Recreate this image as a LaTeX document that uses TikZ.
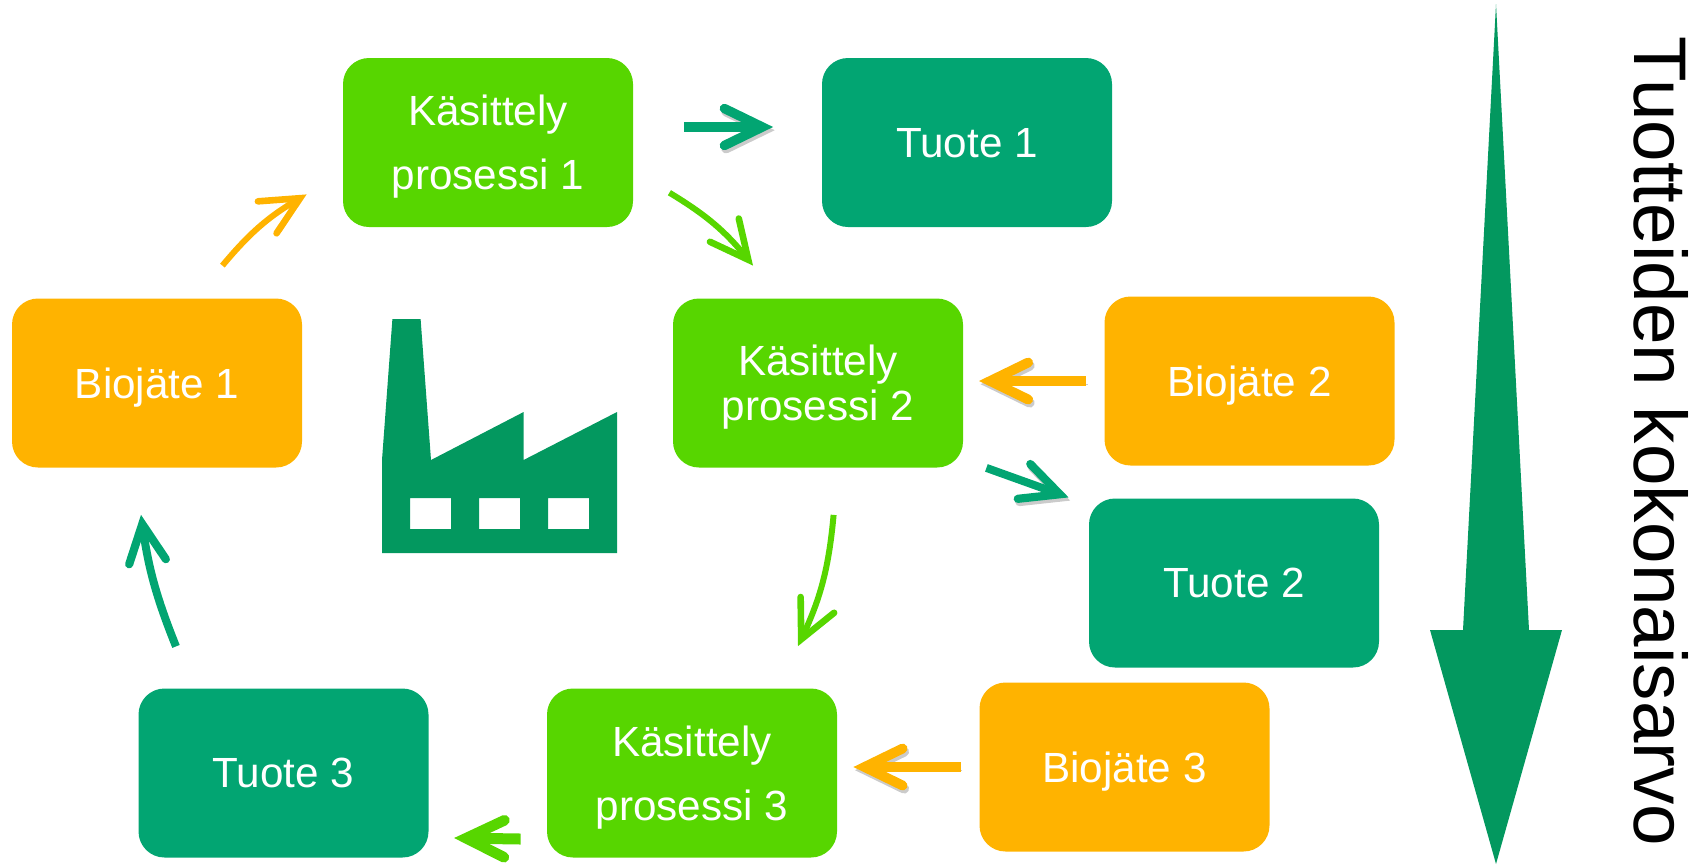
\documentclass[tikz,border=0pt]{standalone}
\usepackage{fontspec}
\setmainfont{Liberation Sans}
\usetikzlibrary{arrows.meta, positioning}

\definecolor{jateorange}{HTML}{FFB300}
\definecolor{prosessigreen}{HTML}{57D600}
\definecolor{tuoteteal}{HTML}{02A572}
\definecolor{darkgreen}{HTML}{03985F}

\tikzset{
  box/.style={rounded corners=13pt, minimum width=145pt, minimum height=84.5pt,
    inner sep=0pt, align=center, text=white, text depth=0pt,
    font=\fontsize{21.1}{32}\selectfont},
  jate/.style={box, fill=jateorange},
  prosessi/.style={box, fill=prosessigreen},
  tuote/.style={box, fill=tuoteteal},
  link/.style={line width=#1, -{Straight Barb[length=19pt,width=18.5pt,line width=.9pt .8,line cap=round,line join=miter]}},
  link/.default=3pt,
  shade/.style={preaction={draw, black!45, opacity=.45, transform canvas={shift={(.8pt,-1.6pt)}}}}
}

\begin{document}
\begin{tikzpicture}[on grid]
\useasboundingbox (0,0) rectangle (848.5pt,-432pt);

% the boxes of the cycle
  \node[jate]     (b1) at (78.5pt,-191.5pt)                     {Biojäte 1};
  \node[prosessi] (k1) [above right=120.25pt and 165.5pt of b1] {Käsittely\\prosessi 1};
  \node[tuote]    (t1) [right=239.5pt of k1]                    {Tuote 1};
  \node[prosessi, font=\fontsize{21.1}{22.5}\selectfont]
                  (k2) [below right=120.25pt and 165pt of k1]   {Käsittely\\prosessi 2};
  \node[jate]     (b2) [above right=1pt and 215.75pt of k2]     {Biojäte 2};
  \node[tuote]    (t2) [below left=101pt and 7.75pt of b2]      {Tuote 2};
  \node[prosessi] (k3) [below left=195pt and 63pt of k2]        {Käsittely\\prosessi 3};
  \node[jate]     (b3) [above right=3pt and 216.25pt of k3]     {Biojäte 3};
  \node[tuote]    (t3) [left=204.25pt of k3]                    {Tuote 3};

% the links
  \draw[link=3pt, jateorange] ([shift={(-40pt,16.25pt)}]b1.north east)
    to[bend left=10] ([shift={(-18pt,16.5pt)}]k1.south west);
  \draw[link=4.75pt, tuoteteal, shade] ([shift={(25.25pt,7.75pt)}]k1.east)
    -- ([shift={(-24.25pt,7.75pt)}]t1.west);
  \draw[link=3pt, prosessigreen] ([shift={(18pt,-25.1pt)}]k1.east)
    to[bend left=10] ([shift={(-32.5pt,16.25pt)}]k2.north);
  \draw[link=5pt, jateorange, shade] ([shift={(-9pt,0pt)}]b2.west)
    -- ([shift={(7.8pt,1pt)}]k2.east);
  \draw[link=4pt, tuoteteal, shade] ([shift={(11.5pt,0pt)}]k2.south east)
    -- ([shift={(-10pt,.35pt)}]t2.north west);
  \draw[link=3pt, prosessigreen] ([shift={(7.8pt,-23.5pt)}]k2.south)
    to[bend left=10] ([shift={(53pt,21pt)}]k3.north);
  \draw[link=5pt, jateorange, shade] ([shift={(-9.25pt,0pt)}]b3.west)
    -- ([shift={(8pt,3pt)}]k3.east);
  \draw[link=5.5pt, prosessigreen] ([shift={(-13pt,-33pt)}]k3.west)
    -- ([shift={(12.6pt,-32.5pt)}]t3.east);
  \draw[link=4pt, tuoteteal] ([shift={(-53.75pt,20.85pt)}]t3.north)
    to[bend left=7] ([shift={(-8pt,-23.45pt)}]b1.south);

% the factory and the value arrow, in pixels of the picture
  \begin{scope}[x=.5pt, y=-.5pt]
    \fill[darkgreen, even odd rule] (392.4,319) -- (420.6,319) -- (431,460) -- (523.6,412)
      -- (523.6,460) -- (617,412) -- (617,553) -- (382,553) -- (382,460) -- cycle
      (410,498) rectangle (451,529) (479,498) rectangle (520,529) (548,498) rectangle (589,529);
    \fill[darkgreen] (1496,4) -- (1529,630) -- (1562,630) -- (1496,864)
      -- (1430,630) -- (1463,630) -- cycle;
    \node[rotate=-90, anchor=base west, inner sep=0pt, font=\fontsize{37.3}{37.3}\selectfont]
      (waarde) at (1634,36) {Tuotteiden kokonaisarvo};
  \end{scope}
\end{tikzpicture}
\end{document}
